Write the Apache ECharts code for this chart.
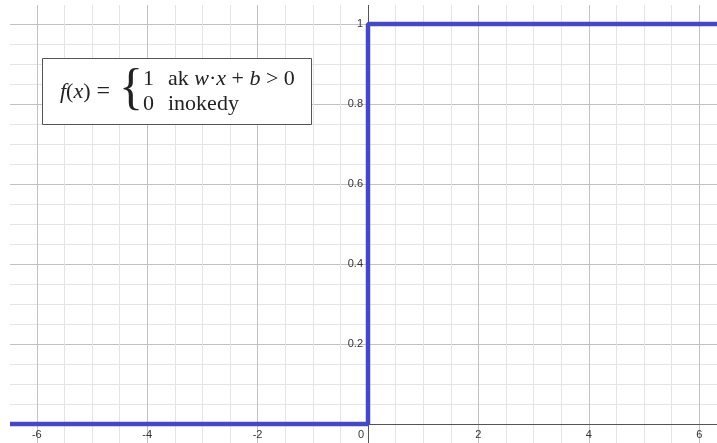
<!DOCTYPE html>
<html>
<head>
<meta charset="utf-8">
<script src="https://cdn.jsdelivr.net/npm/echarts@6/dist/echarts.min.js"></script>
<style>
html,body{margin:0;padding:0;background:#fff;}
#chart{width:717px;height:443px;}
</style>
</head>
<body>
<div id="chart"></div>
<script>
// Step function data (x, y) points
var xValues = [-8, 0, 0, 8];
var yValues = [0, 0, 1, 1];
// axis tick settings
var xTickStep = 2;
var yTickStep = 0.2;

var lineData = xValues.map(function (x, i) { return [x, yValues[i]]; });

var chart = echarts.init(document.getElementById('chart'), null, {renderer: 'canvas'});
var serif = '"Liberation Serif", "DejaVu Serif", serif';
var sans = '"Liberation Sans", Arial, sans-serif';

chart.setOption({
  animation: false,
  backgroundColor: '#ffffff',
  grid: {left: -73.6, right: -92.6, top: -56, bottom: -61, containLabel: false, outerBoundsMode: 'none'},
  xAxis: {
    type: 'value', min: -8, max: 8, interval: xTickStep,
    position: 'bottom', offset: -80,
    axisLine: {onZero: false, lineStyle: {color: '#555', width: 1}},
    axisTick: {show: false},
    axisLabel: {
      color: '#333', fontSize: 11, fontFamily: sans, margin: 5,
      formatter: function (v) { return v === 0 ? '{z|0}' : String(v); },
      rich: {z: {padding: [0, 14, 0, 0], color: '#333', fontSize: 11, fontFamily: sans}}
    },
    splitLine: {show: true, lineStyle: {color: '#c2c2c2', width: 1}},
    minorTick: {show: false, splitNumber: 4},
    minorSplitLine: {show: true, lineStyle: {color: '#e4e4e4', width: 1}}
  },
  yAxis: {
    type: 'value', min: -0.2, max: 1.2, interval: yTickStep,
    position: 'left', offset: -441.6,
    axisLine: {onZero: false, lineStyle: {color: '#555', width: 1}},
    axisTick: {show: false},
    axisLabel: {
      color: '#333', fontSize: 11, fontFamily: sans, margin: 5,
      formatter: function (v) { return Math.abs(v) < 1e-9 ? '' : String(Math.round(v * 10) / 10); }
    },
    splitLine: {show: true, lineStyle: {color: '#c2c2c2', width: 1}},
    minorTick: {show: false, splitNumber: 4},
    minorSplitLine: {show: true, lineStyle: {color: '#e4e4e4', width: 1}}
  },
  series: [{
    type: 'line',
    data: lineData,
    showSymbol: false,
    symbol: 'none',
    clip: true,
    lineStyle: {color: '#4547c4', width: 4.5},
    z: 5
  }],
  graphic: [
    {type: 'rect', shape: {x: 0, y: 0, width: 10, height: 443}, style: {fill: '#fff'}, z: 100, silent: true},
    {type: 'rect', shape: {x: 0, y: 0, width: 717, height: 5}, style: {fill: '#fff'}, z: 100, silent: true},
    {type: 'rect', shape: {x: 42.5, y: 58.5, width: 269, height: 66}, style: {fill: '#fff', stroke: '#555', lineWidth: 1}, z: 101},
    {type: 'text', x: 60, y: 92, z: 102, style: {
      text: '{i|f}{n|(}{i|x}{n|)}{e|=}', verticalAlign: 'middle',
      rich: {i: {fontFamily: serif, fontStyle: 'italic', fontSize: 22, fill: '#222'},
             n: {fontFamily: serif, fontSize: 22, fill: '#222'},
             e: {fontFamily: serif, fontSize: 24, fill: '#222', padding: [0, 0, 0, 6]}}
    }},
    {type: 'text', x: 119, y: 90, z: 102, style: {
      text: '{', font: '50px ' + serif, fill: '#222', verticalAlign: 'middle'
    }},
    {type: 'text', x: 143, y: 79, z: 102, style: {text: '1', font: '22px ' + serif, fill: '#222', verticalAlign: 'middle'}},
    {type: 'text', x: 143, y: 104, z: 102, style: {text: '0', font: '22px ' + serif, fill: '#222', verticalAlign: 'middle'}},
    {type: 'text', x: 168, y: 79, z: 102, style: {
      text: '{n|ak }{i|w}{n|·}{i|x}{n| + }{i|b}{n| > 0}', verticalAlign: 'middle',
      rich: {i: {fontFamily: serif, fontStyle: 'italic', fontSize: 22, fill: '#222'}, n: {fontFamily: serif, fontSize: 22, fill: '#222'}}
    }},
    {type: 'text', x: 168, y: 104, z: 102, style: {text: 'inokedy', font: '22px ' + serif, fill: '#222', verticalAlign: 'middle'}}
  ]
});
</script>
</body>
</html>
